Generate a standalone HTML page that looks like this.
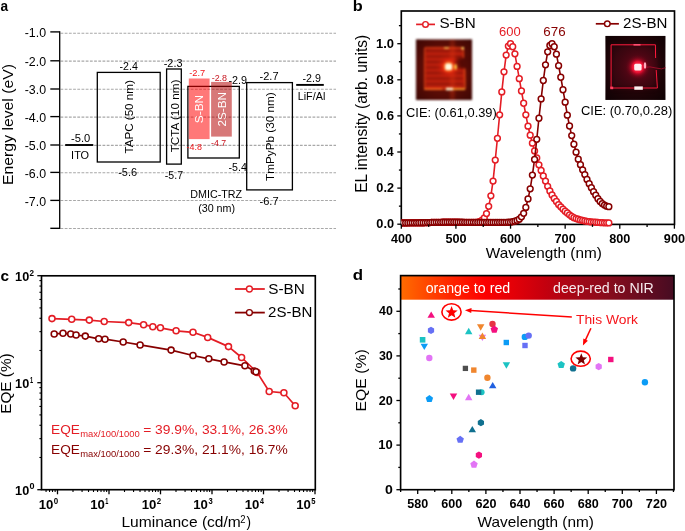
<!DOCTYPE html>
<html><head><meta charset="utf-8"><style>
html,body{margin:0;padding:0;background:#fff;}
body{width:685px;height:531px;overflow:hidden;}
svg{display:block;font-family:"Liberation Sans", sans-serif;will-change:transform;}
</style></head><body>
<svg width="685" height="531" viewBox="0 0 685 531" font-family='"Liberation Sans", sans-serif'>
<rect width="685" height="531" fill="#fff"/>
<text x="0.50" y="10.75" font-size="15.2" fill="#000" font-weight="bold" textLength="7.61" lengthAdjust="spacingAndGlyphs" >a</text>
<line x1="60.50" y1="33.20" x2="336.00" y2="33.20" stroke="#a8a8a8" stroke-width="1.15" stroke-dasharray="2.8 1.4"/>
<line x1="60.50" y1="61.05" x2="336.00" y2="61.05" stroke="#a8a8a8" stroke-width="1.15" stroke-dasharray="2.8 1.4"/>
<line x1="60.50" y1="89.20" x2="336.00" y2="89.20" stroke="#a8a8a8" stroke-width="1.15" stroke-dasharray="2.8 1.4"/>
<line x1="60.50" y1="117.10" x2="336.00" y2="117.10" stroke="#a8a8a8" stroke-width="1.15" stroke-dasharray="2.8 1.4"/>
<line x1="60.50" y1="145.30" x2="336.00" y2="145.30" stroke="#a8a8a8" stroke-width="1.15" stroke-dasharray="2.8 1.4"/>
<line x1="60.50" y1="172.70" x2="336.00" y2="172.70" stroke="#a8a8a8" stroke-width="1.15" stroke-dasharray="2.8 1.4"/>
<line x1="60.50" y1="200.50" x2="336.00" y2="200.50" stroke="#a8a8a8" stroke-width="1.15" stroke-dasharray="2.8 1.4"/>
<line x1="60.50" y1="228.50" x2="336.00" y2="228.50" stroke="#a8a8a8" stroke-width="1.15" stroke-dasharray="2.8 1.4"/>
<line x1="59.70" y1="31.30" x2="59.70" y2="228.90" stroke="#000" stroke-width="1.3" />
<line x1="50.30" y1="31.90" x2="59.70" y2="31.90" stroke="#000" stroke-width="1.35" />
<text x="24.75" y="37.30" font-size="13.1" fill="#000" textLength="21.33" lengthAdjust="spacingAndGlyphs" >-1.0</text>
<line x1="50.30" y1="60.80" x2="59.70" y2="60.80" stroke="#000" stroke-width="1.35" />
<text x="24.75" y="66.20" font-size="13.1" fill="#000" textLength="21.33" lengthAdjust="spacingAndGlyphs" >-2.0</text>
<line x1="50.30" y1="89.00" x2="59.70" y2="89.00" stroke="#000" stroke-width="1.35" />
<text x="24.75" y="94.40" font-size="13.1" fill="#000" textLength="21.33" lengthAdjust="spacingAndGlyphs" >-3.0</text>
<line x1="50.30" y1="116.60" x2="59.70" y2="116.60" stroke="#000" stroke-width="1.35" />
<text x="24.75" y="122.00" font-size="13.1" fill="#000" textLength="21.33" lengthAdjust="spacingAndGlyphs" >-4.0</text>
<line x1="50.30" y1="145.00" x2="59.70" y2="145.00" stroke="#000" stroke-width="1.35" />
<text x="24.75" y="150.40" font-size="13.1" fill="#000" textLength="21.33" lengthAdjust="spacingAndGlyphs" >-5.0</text>
<line x1="50.30" y1="172.40" x2="59.70" y2="172.40" stroke="#000" stroke-width="1.35" />
<text x="24.75" y="177.80" font-size="13.1" fill="#000" textLength="21.33" lengthAdjust="spacingAndGlyphs" >-6.0</text>
<line x1="50.30" y1="200.40" x2="59.70" y2="200.40" stroke="#000" stroke-width="1.35" />
<text x="24.75" y="205.80" font-size="13.1" fill="#000" textLength="21.33" lengthAdjust="spacingAndGlyphs" >-7.0</text>
<line x1="50.30" y1="228.30" x2="59.70" y2="228.30" stroke="#000" stroke-width="1.35" />
<text transform="translate(12.70,183.70) rotate(-90)" x="-1.29" y="0" font-size="15.1" fill="#000" textLength="121.07" lengthAdjust="spacingAndGlyphs">Energy level (eV)</text>
<rect x="97.30" y="72.40" width="62.90" height="89.60" stroke="#000" stroke-width="1.3" fill="none" />
<rect x="166.60" y="69.00" width="14.70" height="95.10" stroke="#000" stroke-width="1.3" fill="none" />
<rect x="187.90" y="86.40" width="51.40" height="71.60" stroke="#000" stroke-width="1.3" fill="none" />
<rect x="246.70" y="82.60" width="45.70" height="107.30" stroke="#000" stroke-width="1.3" fill="none" />
<line x1="65.20" y1="145.00" x2="93.30" y2="145.00" stroke="#000" stroke-width="1.9" />
<line x1="296.20" y1="84.90" x2="323.80" y2="84.90" stroke="#000" stroke-width="1.9" />
<rect x="188.8" y="78.5" width="20.8" height="60.6" fill="#ff0000" fill-opacity="0.53"/>
<rect x="211.1" y="81.9" width="20.7" height="54.7" fill="#b40000" fill-opacity="0.53"/>
<text x="71.10" y="141.60" font-size="11.6" fill="#000" textLength="19.23" lengthAdjust="spacingAndGlyphs" >-5.0</text>
<text x="71.10" y="159.20" font-size="10.9" fill="#000" textLength="18.01" lengthAdjust="spacingAndGlyphs" >ITO</text>
<text x="119.53" y="70.40" font-size="11.6" fill="#000" textLength="18.28" lengthAdjust="spacingAndGlyphs" >-2.4</text>
<text x="118.21" y="175.70" font-size="11.8" fill="#000" textLength="18.87" lengthAdjust="spacingAndGlyphs" >-5.6</text>
<text x="163.72" y="66.80" font-size="11.6" fill="#000" textLength="18.76" lengthAdjust="spacingAndGlyphs" >-2.3</text>
<text x="164.83" y="178.50" font-size="11.8" fill="#000" textLength="18.20" lengthAdjust="spacingAndGlyphs" >-5.7</text>
<text x="228.42" y="83.60" font-size="11.6" fill="#000" textLength="18.59" lengthAdjust="spacingAndGlyphs" >-2.9</text>
<text x="228.53" y="171.30" font-size="11.8" fill="#000" textLength="18.28" lengthAdjust="spacingAndGlyphs" >-5.4</text>
<text x="259.51" y="79.90" font-size="11.6" fill="#000" textLength="19.05" lengthAdjust="spacingAndGlyphs" >-2.7</text>
<text x="259.51" y="204.90" font-size="11.8" fill="#000" textLength="19.05" lengthAdjust="spacingAndGlyphs" >-6.7</text>
<text x="302.53" y="82.00" font-size="11.4" fill="#000" textLength="18.38" lengthAdjust="spacingAndGlyphs" >-2.9</text>
<text x="297.71" y="99.60" font-size="11.0" fill="#000" textLength="27.61" lengthAdjust="spacingAndGlyphs" >LiF/Al</text>
<text x="190.32" y="198.00" font-size="11.8" fill="#000" textLength="51.81" lengthAdjust="spacingAndGlyphs" >DMIC-TRZ</text>
<text x="198.14" y="211.90" font-size="11.0" fill="#000" textLength="36.93" lengthAdjust="spacingAndGlyphs" >(30 nm)</text>
<text x="189.29" y="76.00" font-size="9.5" fill="#f01418" textLength="15.98" lengthAdjust="spacingAndGlyphs" >-2.7</text>
<text x="211.70" y="80.60" font-size="9.5" fill="#c8141e" textLength="15.38" lengthAdjust="spacingAndGlyphs" >-2.8</text>
<text x="186.50" y="149.60" font-size="9.5" fill="#f01418" textLength="15.38" lengthAdjust="spacingAndGlyphs" >-4.8</text>
<text x="211.01" y="146.10" font-size="9.5" fill="#c8141e" textLength="15.03" lengthAdjust="spacingAndGlyphs" >-4.7</text>
<text transform="translate(133.30,153.30) rotate(-90)" x="-0.26" y="0" font-size="11.0" fill="#000" textLength="73.37" lengthAdjust="spacingAndGlyphs">TAPC (50 nm)</text>
<text transform="translate(179.10,152.10) rotate(-90)" x="-0.26" y="0" font-size="11.3" fill="#000" textLength="72.67" lengthAdjust="spacingAndGlyphs">TCTA (10 nm)</text>
<text transform="translate(203.40,122.70) rotate(-90)" x="-0.54" y="0" font-size="10.6" fill="#fff" textLength="28.41" lengthAdjust="spacingAndGlyphs">S-BN</text>
<text transform="translate(225.50,126.00) rotate(-90)" x="-0.59" y="0" font-size="10.6" fill="#fff" textLength="34.55" lengthAdjust="spacingAndGlyphs">2S-BN</text>
<text transform="translate(274.20,180.70) rotate(-90)" x="-0.26" y="0" font-size="11.4" fill="#000" textLength="88.69" lengthAdjust="spacingAndGlyphs">TmPyPb (30 nm)</text>
<text x="352.73" y="10.80" font-size="15.2" fill="#000" font-weight="bold" textLength="9.94" lengthAdjust="spacingAndGlyphs" >b</text>
<rect x="401.30" y="11.00" width="273.20" height="213.40" stroke="#000" stroke-width="1.65" fill="none" />
<defs><clipPath id="cpb"><rect x="401.3" y="0" width="280" height="240"/></clipPath></defs>
<g clip-path="url(#cpb)">
<polyline points="401.30,222.94 403.48,222.90 405.67,222.86 407.85,222.83 410.04,222.79 412.22,222.76 414.41,222.76 416.59,222.76 418.78,222.76 420.96,222.76 423.15,222.76 425.33,222.68 427.52,222.61 429.70,222.54 431.89,222.47 434.07,222.39 436.26,222.36 438.44,222.32 440.63,222.29 442.81,222.25 445.00,222.21 447.18,222.21 449.37,222.21 451.55,222.21 453.74,222.21 455.92,222.21 458.10,222.25 460.29,222.29 462.47,222.32 464.66,222.36 466.84,222.39 469.03,222.39 471.21,222.39 473.40,222.39 475.58,222.39 477.77,222.21 479.95,221.49 482.14,220.23 484.32,217.88 486.51,213.55 488.69,206.33 490.88,195.86 493.06,181.06 495.25,160.12 497.43,138.28 499.62,114.82 501.80,91.89 503.99,71.86 506.17,55.07 508.36,46.05 510.54,43.70 512.72,46.77 514.91,53.81 517.09,66.44 519.28,78.72 521.46,90.99 523.65,103.26 525.83,114.82 528.02,126.19 530.20,135.21 532.39,143.16 534.57,150.92 536.76,157.96 538.94,164.82 541.13,170.41 543.31,176.01 545.50,181.06 547.68,186.29 549.87,190.99 552.05,194.96 554.24,198.39 556.42,201.46 558.61,204.53 560.79,206.87 562.98,209.04 565.16,211.20 567.34,213.01 569.53,214.81 571.71,216.44 573.90,217.70 576.08,218.60 578.27,219.25 580.45,219.90 582.64,220.45 584.82,220.88 587.01,221.31 589.19,221.60 591.38,221.89 593.56,222.11 595.75,222.25 597.93,222.39 600.12,222.54 602.30,222.68 604.49,222.79 606.67,222.86 608.86,222.94" fill="none" stroke="#e41d25" stroke-width="1.6" stroke-linejoin="round"/>
<circle cx="401.30" cy="222.94" r="2.9" fill="#fff" stroke="#e41d25" stroke-width="1.5"/>
<circle cx="403.48" cy="222.90" r="2.9" fill="#fff" stroke="#e41d25" stroke-width="1.5"/>
<circle cx="405.67" cy="222.86" r="2.9" fill="#fff" stroke="#e41d25" stroke-width="1.5"/>
<circle cx="407.85" cy="222.83" r="2.9" fill="#fff" stroke="#e41d25" stroke-width="1.5"/>
<circle cx="410.04" cy="222.79" r="2.9" fill="#fff" stroke="#e41d25" stroke-width="1.5"/>
<circle cx="412.22" cy="222.76" r="2.9" fill="#fff" stroke="#e41d25" stroke-width="1.5"/>
<circle cx="414.41" cy="222.76" r="2.9" fill="#fff" stroke="#e41d25" stroke-width="1.5"/>
<circle cx="416.59" cy="222.76" r="2.9" fill="#fff" stroke="#e41d25" stroke-width="1.5"/>
<circle cx="418.78" cy="222.76" r="2.9" fill="#fff" stroke="#e41d25" stroke-width="1.5"/>
<circle cx="420.96" cy="222.76" r="2.9" fill="#fff" stroke="#e41d25" stroke-width="1.5"/>
<circle cx="423.15" cy="222.76" r="2.9" fill="#fff" stroke="#e41d25" stroke-width="1.5"/>
<circle cx="425.33" cy="222.68" r="2.9" fill="#fff" stroke="#e41d25" stroke-width="1.5"/>
<circle cx="427.52" cy="222.61" r="2.9" fill="#fff" stroke="#e41d25" stroke-width="1.5"/>
<circle cx="429.70" cy="222.54" r="2.9" fill="#fff" stroke="#e41d25" stroke-width="1.5"/>
<circle cx="431.89" cy="222.47" r="2.9" fill="#fff" stroke="#e41d25" stroke-width="1.5"/>
<circle cx="434.07" cy="222.39" r="2.9" fill="#fff" stroke="#e41d25" stroke-width="1.5"/>
<circle cx="436.26" cy="222.36" r="2.9" fill="#fff" stroke="#e41d25" stroke-width="1.5"/>
<circle cx="438.44" cy="222.32" r="2.9" fill="#fff" stroke="#e41d25" stroke-width="1.5"/>
<circle cx="440.63" cy="222.29" r="2.9" fill="#fff" stroke="#e41d25" stroke-width="1.5"/>
<circle cx="442.81" cy="222.25" r="2.9" fill="#fff" stroke="#e41d25" stroke-width="1.5"/>
<circle cx="445.00" cy="222.21" r="2.9" fill="#fff" stroke="#e41d25" stroke-width="1.5"/>
<circle cx="447.18" cy="222.21" r="2.9" fill="#fff" stroke="#e41d25" stroke-width="1.5"/>
<circle cx="449.37" cy="222.21" r="2.9" fill="#fff" stroke="#e41d25" stroke-width="1.5"/>
<circle cx="451.55" cy="222.21" r="2.9" fill="#fff" stroke="#e41d25" stroke-width="1.5"/>
<circle cx="453.74" cy="222.21" r="2.9" fill="#fff" stroke="#e41d25" stroke-width="1.5"/>
<circle cx="455.92" cy="222.21" r="2.9" fill="#fff" stroke="#e41d25" stroke-width="1.5"/>
<circle cx="458.10" cy="222.25" r="2.9" fill="#fff" stroke="#e41d25" stroke-width="1.5"/>
<circle cx="460.29" cy="222.29" r="2.9" fill="#fff" stroke="#e41d25" stroke-width="1.5"/>
<circle cx="462.47" cy="222.32" r="2.9" fill="#fff" stroke="#e41d25" stroke-width="1.5"/>
<circle cx="464.66" cy="222.36" r="2.9" fill="#fff" stroke="#e41d25" stroke-width="1.5"/>
<circle cx="466.84" cy="222.39" r="2.9" fill="#fff" stroke="#e41d25" stroke-width="1.5"/>
<circle cx="469.03" cy="222.39" r="2.9" fill="#fff" stroke="#e41d25" stroke-width="1.5"/>
<circle cx="471.21" cy="222.39" r="2.9" fill="#fff" stroke="#e41d25" stroke-width="1.5"/>
<circle cx="473.40" cy="222.39" r="2.9" fill="#fff" stroke="#e41d25" stroke-width="1.5"/>
<circle cx="475.58" cy="222.39" r="2.9" fill="#fff" stroke="#e41d25" stroke-width="1.5"/>
<circle cx="477.77" cy="222.21" r="2.9" fill="#fff" stroke="#e41d25" stroke-width="1.5"/>
<circle cx="479.95" cy="221.49" r="2.9" fill="#fff" stroke="#e41d25" stroke-width="1.5"/>
<circle cx="482.14" cy="220.23" r="2.9" fill="#fff" stroke="#e41d25" stroke-width="1.5"/>
<circle cx="484.32" cy="217.88" r="2.9" fill="#fff" stroke="#e41d25" stroke-width="1.5"/>
<circle cx="486.51" cy="213.55" r="2.9" fill="#fff" stroke="#e41d25" stroke-width="1.5"/>
<circle cx="488.69" cy="206.33" r="2.9" fill="#fff" stroke="#e41d25" stroke-width="1.5"/>
<circle cx="490.88" cy="195.86" r="2.9" fill="#fff" stroke="#e41d25" stroke-width="1.5"/>
<circle cx="493.06" cy="181.06" r="2.9" fill="#fff" stroke="#e41d25" stroke-width="1.5"/>
<circle cx="495.25" cy="160.12" r="2.9" fill="#fff" stroke="#e41d25" stroke-width="1.5"/>
<circle cx="497.43" cy="138.28" r="2.9" fill="#fff" stroke="#e41d25" stroke-width="1.5"/>
<circle cx="499.62" cy="114.82" r="2.9" fill="#fff" stroke="#e41d25" stroke-width="1.5"/>
<circle cx="501.80" cy="91.89" r="2.9" fill="#fff" stroke="#e41d25" stroke-width="1.5"/>
<circle cx="503.99" cy="71.86" r="2.9" fill="#fff" stroke="#e41d25" stroke-width="1.5"/>
<circle cx="506.17" cy="55.07" r="2.9" fill="#fff" stroke="#e41d25" stroke-width="1.5"/>
<circle cx="508.36" cy="46.05" r="2.9" fill="#fff" stroke="#e41d25" stroke-width="1.5"/>
<circle cx="510.54" cy="43.70" r="2.9" fill="#fff" stroke="#e41d25" stroke-width="1.5"/>
<circle cx="512.72" cy="46.77" r="2.9" fill="#fff" stroke="#e41d25" stroke-width="1.5"/>
<circle cx="514.91" cy="53.81" r="2.9" fill="#fff" stroke="#e41d25" stroke-width="1.5"/>
<circle cx="517.09" cy="66.44" r="2.9" fill="#fff" stroke="#e41d25" stroke-width="1.5"/>
<circle cx="519.28" cy="78.72" r="2.9" fill="#fff" stroke="#e41d25" stroke-width="1.5"/>
<circle cx="521.46" cy="90.99" r="2.9" fill="#fff" stroke="#e41d25" stroke-width="1.5"/>
<circle cx="523.65" cy="103.26" r="2.9" fill="#fff" stroke="#e41d25" stroke-width="1.5"/>
<circle cx="525.83" cy="114.82" r="2.9" fill="#fff" stroke="#e41d25" stroke-width="1.5"/>
<circle cx="528.02" cy="126.19" r="2.9" fill="#fff" stroke="#e41d25" stroke-width="1.5"/>
<circle cx="530.20" cy="135.21" r="2.9" fill="#fff" stroke="#e41d25" stroke-width="1.5"/>
<circle cx="532.39" cy="143.16" r="2.9" fill="#fff" stroke="#e41d25" stroke-width="1.5"/>
<circle cx="534.57" cy="150.92" r="2.9" fill="#fff" stroke="#e41d25" stroke-width="1.5"/>
<circle cx="536.76" cy="157.96" r="2.9" fill="#fff" stroke="#e41d25" stroke-width="1.5"/>
<circle cx="538.94" cy="164.82" r="2.9" fill="#fff" stroke="#e41d25" stroke-width="1.5"/>
<circle cx="541.13" cy="170.41" r="2.9" fill="#fff" stroke="#e41d25" stroke-width="1.5"/>
<circle cx="543.31" cy="176.01" r="2.9" fill="#fff" stroke="#e41d25" stroke-width="1.5"/>
<circle cx="545.50" cy="181.06" r="2.9" fill="#fff" stroke="#e41d25" stroke-width="1.5"/>
<circle cx="547.68" cy="186.29" r="2.9" fill="#fff" stroke="#e41d25" stroke-width="1.5"/>
<circle cx="549.87" cy="190.99" r="2.9" fill="#fff" stroke="#e41d25" stroke-width="1.5"/>
<circle cx="552.05" cy="194.96" r="2.9" fill="#fff" stroke="#e41d25" stroke-width="1.5"/>
<circle cx="554.24" cy="198.39" r="2.9" fill="#fff" stroke="#e41d25" stroke-width="1.5"/>
<circle cx="556.42" cy="201.46" r="2.9" fill="#fff" stroke="#e41d25" stroke-width="1.5"/>
<circle cx="558.61" cy="204.53" r="2.9" fill="#fff" stroke="#e41d25" stroke-width="1.5"/>
<circle cx="560.79" cy="206.87" r="2.9" fill="#fff" stroke="#e41d25" stroke-width="1.5"/>
<circle cx="562.98" cy="209.04" r="2.9" fill="#fff" stroke="#e41d25" stroke-width="1.5"/>
<circle cx="565.16" cy="211.20" r="2.9" fill="#fff" stroke="#e41d25" stroke-width="1.5"/>
<circle cx="567.34" cy="213.01" r="2.9" fill="#fff" stroke="#e41d25" stroke-width="1.5"/>
<circle cx="569.53" cy="214.81" r="2.9" fill="#fff" stroke="#e41d25" stroke-width="1.5"/>
<circle cx="571.71" cy="216.44" r="2.9" fill="#fff" stroke="#e41d25" stroke-width="1.5"/>
<circle cx="573.90" cy="217.70" r="2.9" fill="#fff" stroke="#e41d25" stroke-width="1.5"/>
<circle cx="576.08" cy="218.60" r="2.9" fill="#fff" stroke="#e41d25" stroke-width="1.5"/>
<circle cx="578.27" cy="219.25" r="2.9" fill="#fff" stroke="#e41d25" stroke-width="1.5"/>
<circle cx="580.45" cy="219.90" r="2.9" fill="#fff" stroke="#e41d25" stroke-width="1.5"/>
<circle cx="582.64" cy="220.45" r="2.9" fill="#fff" stroke="#e41d25" stroke-width="1.5"/>
<circle cx="584.82" cy="220.88" r="2.9" fill="#fff" stroke="#e41d25" stroke-width="1.5"/>
<circle cx="587.01" cy="221.31" r="2.9" fill="#fff" stroke="#e41d25" stroke-width="1.5"/>
<circle cx="589.19" cy="221.60" r="2.9" fill="#fff" stroke="#e41d25" stroke-width="1.5"/>
<circle cx="591.38" cy="221.89" r="2.9" fill="#fff" stroke="#e41d25" stroke-width="1.5"/>
<circle cx="593.56" cy="222.11" r="2.9" fill="#fff" stroke="#e41d25" stroke-width="1.5"/>
<circle cx="595.75" cy="222.25" r="2.9" fill="#fff" stroke="#e41d25" stroke-width="1.5"/>
<circle cx="597.93" cy="222.39" r="2.9" fill="#fff" stroke="#e41d25" stroke-width="1.5"/>
<circle cx="600.12" cy="222.54" r="2.9" fill="#fff" stroke="#e41d25" stroke-width="1.5"/>
<circle cx="602.30" cy="222.68" r="2.9" fill="#fff" stroke="#e41d25" stroke-width="1.5"/>
<circle cx="604.49" cy="222.79" r="2.9" fill="#fff" stroke="#e41d25" stroke-width="1.5"/>
<circle cx="606.67" cy="222.86" r="2.9" fill="#fff" stroke="#e41d25" stroke-width="1.5"/>
<circle cx="608.86" cy="222.94" r="2.9" fill="#fff" stroke="#e41d25" stroke-width="1.5"/>
<polyline points="401.30,222.94 403.48,222.92 405.67,222.90 407.85,222.88 410.04,222.86 412.22,222.85 414.41,222.83 416.59,222.81 418.78,222.79 420.96,222.77 423.15,222.76 425.33,222.68 427.52,222.61 429.70,222.54 431.89,222.47 434.07,222.39 436.26,222.36 438.44,222.32 440.63,222.29 442.81,222.25 445.00,222.21 447.18,222.21 449.37,222.21 451.55,222.21 453.74,222.21 455.92,222.21 458.10,222.23 460.29,222.25 462.47,222.27 464.66,222.29 466.84,222.30 469.03,222.32 471.21,222.34 473.40,222.36 475.58,222.38 477.77,222.39 479.95,222.39 482.14,222.39 484.32,222.39 486.51,222.39 488.69,222.39 490.88,222.39 493.06,222.39 495.25,222.39 497.43,222.39 499.62,222.39 501.80,222.36 503.99,222.32 506.17,222.29 508.36,222.25 510.54,222.21 512.72,221.67 514.91,221.13 517.09,220.41 519.28,219.15 521.46,216.80 523.65,213.37 525.83,207.41 528.02,198.93 530.20,188.82 532.39,175.10 534.57,159.40 536.76,139.37 538.94,118.25 541.13,98.93 543.31,80.52 545.50,64.82 547.68,51.82 549.87,45.50 552.05,43.70 554.24,46.77 556.42,54.17 558.61,65.72 560.79,77.27 562.98,89.73 565.16,102.18 567.34,115.18 569.53,126.01 571.71,135.57 573.90,144.24 576.08,152.18 578.27,159.22 580.45,164.63 582.64,169.87 584.82,174.56 587.01,179.44 589.19,183.77 591.38,187.74 593.56,191.71 595.75,195.14 597.93,198.75 600.12,201.46 602.30,203.62 604.49,205.07 606.67,206.15 608.86,206.69" fill="none" stroke="#870000" stroke-width="1.6" stroke-linejoin="round"/>
<circle cx="401.30" cy="222.94" r="2.9" fill="#fff" stroke="#870000" stroke-width="1.5"/>
<circle cx="403.48" cy="222.92" r="2.9" fill="#fff" stroke="#870000" stroke-width="1.5"/>
<circle cx="405.67" cy="222.90" r="2.9" fill="#fff" stroke="#870000" stroke-width="1.5"/>
<circle cx="407.85" cy="222.88" r="2.9" fill="#fff" stroke="#870000" stroke-width="1.5"/>
<circle cx="410.04" cy="222.86" r="2.9" fill="#fff" stroke="#870000" stroke-width="1.5"/>
<circle cx="412.22" cy="222.85" r="2.9" fill="#fff" stroke="#870000" stroke-width="1.5"/>
<circle cx="414.41" cy="222.83" r="2.9" fill="#fff" stroke="#870000" stroke-width="1.5"/>
<circle cx="416.59" cy="222.81" r="2.9" fill="#fff" stroke="#870000" stroke-width="1.5"/>
<circle cx="418.78" cy="222.79" r="2.9" fill="#fff" stroke="#870000" stroke-width="1.5"/>
<circle cx="420.96" cy="222.77" r="2.9" fill="#fff" stroke="#870000" stroke-width="1.5"/>
<circle cx="423.15" cy="222.76" r="2.9" fill="#fff" stroke="#870000" stroke-width="1.5"/>
<circle cx="425.33" cy="222.68" r="2.9" fill="#fff" stroke="#870000" stroke-width="1.5"/>
<circle cx="427.52" cy="222.61" r="2.9" fill="#fff" stroke="#870000" stroke-width="1.5"/>
<circle cx="429.70" cy="222.54" r="2.9" fill="#fff" stroke="#870000" stroke-width="1.5"/>
<circle cx="431.89" cy="222.47" r="2.9" fill="#fff" stroke="#870000" stroke-width="1.5"/>
<circle cx="434.07" cy="222.39" r="2.9" fill="#fff" stroke="#870000" stroke-width="1.5"/>
<circle cx="436.26" cy="222.36" r="2.9" fill="#fff" stroke="#870000" stroke-width="1.5"/>
<circle cx="438.44" cy="222.32" r="2.9" fill="#fff" stroke="#870000" stroke-width="1.5"/>
<circle cx="440.63" cy="222.29" r="2.9" fill="#fff" stroke="#870000" stroke-width="1.5"/>
<circle cx="442.81" cy="222.25" r="2.9" fill="#fff" stroke="#870000" stroke-width="1.5"/>
<circle cx="445.00" cy="222.21" r="2.9" fill="#fff" stroke="#870000" stroke-width="1.5"/>
<circle cx="447.18" cy="222.21" r="2.9" fill="#fff" stroke="#870000" stroke-width="1.5"/>
<circle cx="449.37" cy="222.21" r="2.9" fill="#fff" stroke="#870000" stroke-width="1.5"/>
<circle cx="451.55" cy="222.21" r="2.9" fill="#fff" stroke="#870000" stroke-width="1.5"/>
<circle cx="453.74" cy="222.21" r="2.9" fill="#fff" stroke="#870000" stroke-width="1.5"/>
<circle cx="455.92" cy="222.21" r="2.9" fill="#fff" stroke="#870000" stroke-width="1.5"/>
<circle cx="458.10" cy="222.23" r="2.9" fill="#fff" stroke="#870000" stroke-width="1.5"/>
<circle cx="460.29" cy="222.25" r="2.9" fill="#fff" stroke="#870000" stroke-width="1.5"/>
<circle cx="462.47" cy="222.27" r="2.9" fill="#fff" stroke="#870000" stroke-width="1.5"/>
<circle cx="464.66" cy="222.29" r="2.9" fill="#fff" stroke="#870000" stroke-width="1.5"/>
<circle cx="466.84" cy="222.30" r="2.9" fill="#fff" stroke="#870000" stroke-width="1.5"/>
<circle cx="469.03" cy="222.32" r="2.9" fill="#fff" stroke="#870000" stroke-width="1.5"/>
<circle cx="471.21" cy="222.34" r="2.9" fill="#fff" stroke="#870000" stroke-width="1.5"/>
<circle cx="473.40" cy="222.36" r="2.9" fill="#fff" stroke="#870000" stroke-width="1.5"/>
<circle cx="475.58" cy="222.38" r="2.9" fill="#fff" stroke="#870000" stroke-width="1.5"/>
<circle cx="477.77" cy="222.39" r="2.9" fill="#fff" stroke="#870000" stroke-width="1.5"/>
<circle cx="479.95" cy="222.39" r="2.9" fill="#fff" stroke="#870000" stroke-width="1.5"/>
<circle cx="482.14" cy="222.39" r="2.9" fill="#fff" stroke="#870000" stroke-width="1.5"/>
<circle cx="484.32" cy="222.39" r="2.9" fill="#fff" stroke="#870000" stroke-width="1.5"/>
<circle cx="486.51" cy="222.39" r="2.9" fill="#fff" stroke="#870000" stroke-width="1.5"/>
<circle cx="488.69" cy="222.39" r="2.9" fill="#fff" stroke="#870000" stroke-width="1.5"/>
<circle cx="490.88" cy="222.39" r="2.9" fill="#fff" stroke="#870000" stroke-width="1.5"/>
<circle cx="493.06" cy="222.39" r="2.9" fill="#fff" stroke="#870000" stroke-width="1.5"/>
<circle cx="495.25" cy="222.39" r="2.9" fill="#fff" stroke="#870000" stroke-width="1.5"/>
<circle cx="497.43" cy="222.39" r="2.9" fill="#fff" stroke="#870000" stroke-width="1.5"/>
<circle cx="499.62" cy="222.39" r="2.9" fill="#fff" stroke="#870000" stroke-width="1.5"/>
<circle cx="501.80" cy="222.36" r="2.9" fill="#fff" stroke="#870000" stroke-width="1.5"/>
<circle cx="503.99" cy="222.32" r="2.9" fill="#fff" stroke="#870000" stroke-width="1.5"/>
<circle cx="506.17" cy="222.29" r="2.9" fill="#fff" stroke="#870000" stroke-width="1.5"/>
<circle cx="508.36" cy="222.25" r="2.9" fill="#fff" stroke="#870000" stroke-width="1.5"/>
<circle cx="510.54" cy="222.21" r="2.9" fill="#fff" stroke="#870000" stroke-width="1.5"/>
<circle cx="512.72" cy="221.67" r="2.9" fill="#fff" stroke="#870000" stroke-width="1.5"/>
<circle cx="514.91" cy="221.13" r="2.9" fill="#fff" stroke="#870000" stroke-width="1.5"/>
<circle cx="517.09" cy="220.41" r="2.9" fill="#fff" stroke="#870000" stroke-width="1.5"/>
<circle cx="519.28" cy="219.15" r="2.9" fill="#fff" stroke="#870000" stroke-width="1.5"/>
<circle cx="521.46" cy="216.80" r="2.9" fill="#fff" stroke="#870000" stroke-width="1.5"/>
<circle cx="523.65" cy="213.37" r="2.9" fill="#fff" stroke="#870000" stroke-width="1.5"/>
<circle cx="525.83" cy="207.41" r="2.9" fill="#fff" stroke="#870000" stroke-width="1.5"/>
<circle cx="528.02" cy="198.93" r="2.9" fill="#fff" stroke="#870000" stroke-width="1.5"/>
<circle cx="530.20" cy="188.82" r="2.9" fill="#fff" stroke="#870000" stroke-width="1.5"/>
<circle cx="532.39" cy="175.10" r="2.9" fill="#fff" stroke="#870000" stroke-width="1.5"/>
<circle cx="534.57" cy="159.40" r="2.9" fill="#fff" stroke="#870000" stroke-width="1.5"/>
<circle cx="536.76" cy="139.37" r="2.9" fill="#fff" stroke="#870000" stroke-width="1.5"/>
<circle cx="538.94" cy="118.25" r="2.9" fill="#fff" stroke="#870000" stroke-width="1.5"/>
<circle cx="541.13" cy="98.93" r="2.9" fill="#fff" stroke="#870000" stroke-width="1.5"/>
<circle cx="543.31" cy="80.52" r="2.9" fill="#fff" stroke="#870000" stroke-width="1.5"/>
<circle cx="545.50" cy="64.82" r="2.9" fill="#fff" stroke="#870000" stroke-width="1.5"/>
<circle cx="547.68" cy="51.82" r="2.9" fill="#fff" stroke="#870000" stroke-width="1.5"/>
<circle cx="549.87" cy="45.50" r="2.9" fill="#fff" stroke="#870000" stroke-width="1.5"/>
<circle cx="552.05" cy="43.70" r="2.9" fill="#fff" stroke="#870000" stroke-width="1.5"/>
<circle cx="554.24" cy="46.77" r="2.9" fill="#fff" stroke="#870000" stroke-width="1.5"/>
<circle cx="556.42" cy="54.17" r="2.9" fill="#fff" stroke="#870000" stroke-width="1.5"/>
<circle cx="558.61" cy="65.72" r="2.9" fill="#fff" stroke="#870000" stroke-width="1.5"/>
<circle cx="560.79" cy="77.27" r="2.9" fill="#fff" stroke="#870000" stroke-width="1.5"/>
<circle cx="562.98" cy="89.73" r="2.9" fill="#fff" stroke="#870000" stroke-width="1.5"/>
<circle cx="565.16" cy="102.18" r="2.9" fill="#fff" stroke="#870000" stroke-width="1.5"/>
<circle cx="567.34" cy="115.18" r="2.9" fill="#fff" stroke="#870000" stroke-width="1.5"/>
<circle cx="569.53" cy="126.01" r="2.9" fill="#fff" stroke="#870000" stroke-width="1.5"/>
<circle cx="571.71" cy="135.57" r="2.9" fill="#fff" stroke="#870000" stroke-width="1.5"/>
<circle cx="573.90" cy="144.24" r="2.9" fill="#fff" stroke="#870000" stroke-width="1.5"/>
<circle cx="576.08" cy="152.18" r="2.9" fill="#fff" stroke="#870000" stroke-width="1.5"/>
<circle cx="578.27" cy="159.22" r="2.9" fill="#fff" stroke="#870000" stroke-width="1.5"/>
<circle cx="580.45" cy="164.63" r="2.9" fill="#fff" stroke="#870000" stroke-width="1.5"/>
<circle cx="582.64" cy="169.87" r="2.9" fill="#fff" stroke="#870000" stroke-width="1.5"/>
<circle cx="584.82" cy="174.56" r="2.9" fill="#fff" stroke="#870000" stroke-width="1.5"/>
<circle cx="587.01" cy="179.44" r="2.9" fill="#fff" stroke="#870000" stroke-width="1.5"/>
<circle cx="589.19" cy="183.77" r="2.9" fill="#fff" stroke="#870000" stroke-width="1.5"/>
<circle cx="591.38" cy="187.74" r="2.9" fill="#fff" stroke="#870000" stroke-width="1.5"/>
<circle cx="593.56" cy="191.71" r="2.9" fill="#fff" stroke="#870000" stroke-width="1.5"/>
<circle cx="595.75" cy="195.14" r="2.9" fill="#fff" stroke="#870000" stroke-width="1.5"/>
<circle cx="597.93" cy="198.75" r="2.9" fill="#fff" stroke="#870000" stroke-width="1.5"/>
<circle cx="600.12" cy="201.46" r="2.9" fill="#fff" stroke="#870000" stroke-width="1.5"/>
<circle cx="602.30" cy="203.62" r="2.9" fill="#fff" stroke="#870000" stroke-width="1.5"/>
<circle cx="604.49" cy="205.07" r="2.9" fill="#fff" stroke="#870000" stroke-width="1.5"/>
<circle cx="606.67" cy="206.15" r="2.9" fill="#fff" stroke="#870000" stroke-width="1.5"/>
<circle cx="608.86" cy="206.69" r="2.9" fill="#fff" stroke="#870000" stroke-width="1.5"/>
</g>
<line x1="397.30" y1="224.20" x2="401.30" y2="224.20" stroke="#000" stroke-width="1.3" />
<text x="376.30" y="228.20" font-size="12.4" fill="#000" font-weight="bold" textLength="17.73" lengthAdjust="spacingAndGlyphs" >0.0</text>
<line x1="398.90" y1="206.15" x2="401.30" y2="206.15" stroke="#000" stroke-width="1.3" />
<line x1="397.30" y1="188.10" x2="401.30" y2="188.10" stroke="#000" stroke-width="1.3" />
<text x="376.30" y="192.10" font-size="12.4" fill="#000" font-weight="bold" textLength="17.71" lengthAdjust="spacingAndGlyphs" >0.2</text>
<line x1="398.90" y1="170.05" x2="401.30" y2="170.05" stroke="#000" stroke-width="1.3" />
<line x1="397.30" y1="152.00" x2="401.30" y2="152.00" stroke="#000" stroke-width="1.3" />
<text x="376.31" y="156.00" font-size="12.4" fill="#000" font-weight="bold" textLength="17.26" lengthAdjust="spacingAndGlyphs" >0.4</text>
<line x1="398.90" y1="133.95" x2="401.30" y2="133.95" stroke="#000" stroke-width="1.3" />
<line x1="397.30" y1="115.90" x2="401.30" y2="115.90" stroke="#000" stroke-width="1.3" />
<text x="376.30" y="119.90" font-size="12.4" fill="#000" font-weight="bold" textLength="17.66" lengthAdjust="spacingAndGlyphs" >0.6</text>
<line x1="398.90" y1="97.85" x2="401.30" y2="97.85" stroke="#000" stroke-width="1.3" />
<line x1="397.30" y1="79.80" x2="401.30" y2="79.80" stroke="#000" stroke-width="1.3" />
<text x="376.30" y="83.80" font-size="12.4" fill="#000" font-weight="bold" textLength="17.59" lengthAdjust="spacingAndGlyphs" >0.8</text>
<line x1="398.90" y1="61.75" x2="401.30" y2="61.75" stroke="#000" stroke-width="1.3" />
<line x1="397.30" y1="43.70" x2="401.30" y2="43.70" stroke="#000" stroke-width="1.3" />
<text x="375.98" y="47.70" font-size="12.4" fill="#000" font-weight="bold" textLength="18.05" lengthAdjust="spacingAndGlyphs" >1.0</text>
<line x1="398.90" y1="25.65" x2="401.30" y2="25.65" stroke="#000" stroke-width="1.3" />
<line x1="401.30" y1="224.40" x2="401.30" y2="228.70" stroke="#000" stroke-width="1.3" />
<text x="391.01" y="242.70" font-size="12.5" fill="#000" font-weight="bold" textLength="20.90" lengthAdjust="spacingAndGlyphs" >400</text>
<line x1="428.61" y1="224.40" x2="428.61" y2="226.90" stroke="#000" stroke-width="1.3" />
<line x1="455.92" y1="224.40" x2="455.92" y2="228.70" stroke="#000" stroke-width="1.3" />
<text x="445.43" y="242.70" font-size="12.5" fill="#000" font-weight="bold" textLength="21.11" lengthAdjust="spacingAndGlyphs" >500</text>
<line x1="483.23" y1="224.40" x2="483.23" y2="226.90" stroke="#000" stroke-width="1.3" />
<line x1="510.54" y1="224.40" x2="510.54" y2="228.70" stroke="#000" stroke-width="1.3" />
<text x="499.97" y="242.70" font-size="12.5" fill="#000" font-weight="bold" textLength="21.19" lengthAdjust="spacingAndGlyphs" >600</text>
<line x1="537.85" y1="224.40" x2="537.85" y2="226.90" stroke="#000" stroke-width="1.3" />
<line x1="565.16" y1="224.40" x2="565.16" y2="228.70" stroke="#000" stroke-width="1.3" />
<text x="554.51" y="242.70" font-size="12.5" fill="#000" font-weight="bold" textLength="21.27" lengthAdjust="spacingAndGlyphs" >700</text>
<line x1="592.47" y1="224.40" x2="592.47" y2="226.90" stroke="#000" stroke-width="1.3" />
<line x1="619.78" y1="224.40" x2="619.78" y2="228.70" stroke="#000" stroke-width="1.3" />
<text x="609.28" y="242.70" font-size="12.5" fill="#000" font-weight="bold" textLength="21.12" lengthAdjust="spacingAndGlyphs" >800</text>
<line x1="647.09" y1="224.40" x2="647.09" y2="226.90" stroke="#000" stroke-width="1.3" />
<line x1="674.40" y1="224.40" x2="674.40" y2="228.70" stroke="#000" stroke-width="1.3" />
<text x="663.86" y="242.70" font-size="12.5" fill="#000" font-weight="bold" textLength="21.16" lengthAdjust="spacingAndGlyphs" >900</text>
<text transform="translate(366.90,191.60) rotate(-90)" x="-1.27" y="0" font-size="16.2" fill="#000" textLength="158.03" lengthAdjust="spacingAndGlyphs">EL intensity (arb. units)</text>
<text x="485.83" y="258.40" font-size="14.8" fill="#000" textLength="115.91" lengthAdjust="spacingAndGlyphs" >Wavelength (nm)</text>
<line x1="416.10" y1="24.40" x2="435.00" y2="24.40" stroke="#e41d25" stroke-width="1.7" />
<circle cx="425.5" cy="24.4" r="2.8" fill="#fff" stroke="#e41d25" stroke-width="1.45"/>
<text x="439.41" y="28.10" font-size="14.4" fill="#000" textLength="36.33" lengthAdjust="spacingAndGlyphs" >S-BN</text>
<line x1="595.80" y1="23.80" x2="618.90" y2="23.80" stroke="#870000" stroke-width="1.7" />
<circle cx="607.3" cy="23.8" r="2.8" fill="#fff" stroke="#870000" stroke-width="1.45"/>
<text x="623.14" y="27.90" font-size="14.5" fill="#000" textLength="44.39" lengthAdjust="spacingAndGlyphs" >2S-BN</text>
<text x="498.94" y="35.50" font-size="12.0" fill="#e41d25" textLength="21.67" lengthAdjust="spacingAndGlyphs" >600</text>
<text x="543.32" y="35.50" font-size="12.0" fill="#870000" textLength="22.26" lengthAdjust="spacingAndGlyphs" >676</text>
<text x="406.05" y="116.90" font-size="12.3" fill="#000" textLength="90.75" lengthAdjust="spacingAndGlyphs" >CIE: (0.61,0.39)</text>
<text x="580.94" y="115.10" font-size="12.3" fill="#000" textLength="91.36" lengthAdjust="spacingAndGlyphs" >CIE: (0.70,0.28)</text>
<defs>
<filter id="bl05" color-interpolation-filters="sRGB" x="-20%" y="-20%" width="140%" height="140%"><feGaussianBlur stdDeviation="0.5"/></filter>
<filter id="bl07" color-interpolation-filters="sRGB" x="-8%" y="-8%" width="116%" height="116%"><feGaussianBlur stdDeviation="0.85"/></filter>
<filter id="bl1" color-interpolation-filters="sRGB" x="-20%" y="-20%" width="140%" height="140%"><feGaussianBlur stdDeviation="0.9"/></filter>
<filter id="bl2" color-interpolation-filters="sRGB" x="-50%" y="-50%" width="200%" height="200%"><feGaussianBlur stdDeviation="2.0"/></filter>
<filter id="bl3" color-interpolation-filters="sRGB" x="-50%" y="-50%" width="200%" height="200%"><feGaussianBlur stdDeviation="1.2"/></filter>
<radialGradient id="vig1" cx="0.5" cy="0.5" r="0.72"><stop offset="0.55" stop-color="#300402" stop-opacity="0"/><stop offset="1" stop-color="#300402" stop-opacity="0.75"/></radialGradient>
<radialGradient id="vig2" cx="0.5" cy="0.5" r="0.72"><stop offset="0.5" stop-color="#000" stop-opacity="0"/><stop offset="1" stop-color="#000" stop-opacity="0.6"/></radialGradient>
<radialGradient id="glow1" cx="0.5" cy="0.5" r="0.5"><stop offset="0" stop-color="#ff4010"/><stop offset="0.35" stop-color="#ff2810" stop-opacity="0.8"/><stop offset="0.7" stop-color="#e0200c" stop-opacity="0.3"/><stop offset="1" stop-color="#c02008" stop-opacity="0"/></radialGradient>
<radialGradient id="glow2" cx="0.5" cy="0.5" r="0.5"><stop offset="0" stop-color="#ff1038"/><stop offset="0.45" stop-color="#f00a30" stop-opacity="0.85"/><stop offset="0.75" stop-color="#a00620" stop-opacity="0.3"/><stop offset="1" stop-color="#600418" stop-opacity="0"/></radialGradient>
<radialGradient id="glow2b" cx="0.5" cy="0.5" r="0.5"><stop offset="0" stop-color="#c00828" stop-opacity="0.55"/><stop offset="0.5" stop-color="#900620" stop-opacity="0.25"/><stop offset="1" stop-color="#600418" stop-opacity="0"/></radialGradient>
<clipPath id="cp1"><rect x="415.8" y="39.3" width="56.4" height="60.8"/></clipPath>
<clipPath id="cp2"><rect x="605.3" y="35.8" width="60.3" height="64.1"/></clipPath>
</defs>
<g filter="url(#bl07)"><g clip-path="url(#cp1)">
<rect x="415.8" y="39.3" width="56.4" height="60.8" fill="#5a0c06"/>
<g filter="url(#bl1)">
<path d="M425,48 L463.3,48 L463.5,58 Q455,59 454.5,63.5 Q455,68 465,68.5 L465.1,89 L425,89 Z" fill="#c8220e"/>
<rect x="426" y="50.0" width="37" height="2.0" fill="#600a04" opacity="0.75"/>
<rect x="426" y="55.5" width="37" height="2.0" fill="#600a04" opacity="0.75"/>
<rect x="426" y="61.0" width="37" height="2.0" fill="#600a04" opacity="0.75"/>
<rect x="426" y="66.5" width="37" height="2.0" fill="#600a04" opacity="0.75"/>
<rect x="426" y="72.0" width="37" height="2.0" fill="#600a04" opacity="0.75"/>
<rect x="426" y="77.5" width="37" height="2.0" fill="#600a04" opacity="0.75"/>
<rect x="426" y="83.0" width="37" height="2.0" fill="#600a04" opacity="0.75"/>
<rect x="450" y="39" width="5" height="62" fill="#e83a14" opacity="0.32"/>
<path d="M456,57 Q452,63 456,69 L472,70 L472,57 Z" fill="#4a0804" opacity="0.3"/>
</g>
<rect x="415.8" y="39.3" width="56.4" height="60.8" fill="url(#vig1)"/>
<circle cx="448.5" cy="66.7" r="13" fill="url(#glow1)"/>
<g filter="url(#bl05)">
<path d="M424.8,89.1 L424.8,47.8 L463.2,47.8 L463.4,58" fill="none" stroke="#ff501a" stroke-width="0.9"/>
<path d="M464.6,68.5 L465.1,89.1 L424.8,89.1" fill="none" stroke="#ff601c" stroke-width="0.9"/>
<rect x="424" y="88.3" width="18" height="1.4" fill="#ff7020"/>
<rect x="446" y="87.7" width="7" height="2.6" fill="#fff6d0"/>
<rect x="453" y="88.3" width="12" height="1.5" fill="#ffb030"/>
<rect x="444" y="47.2" width="5" height="1.5" fill="#ffc050"/>
<rect x="461.5" y="47" width="2.5" height="2.5" fill="#ffd060"/>
<ellipse cx="455.6" cy="67" rx="1.3" ry="3" fill="#ffd040"/>
</g>
<circle cx="448.5" cy="66.7" r="4.6" fill="#ff9a28" filter="url(#bl3)"/>
<rect x="445.2" y="63.5" width="6.8" height="6.6" rx="1.5" fill="#fffbe0" filter="url(#bl05)"/>
</g></g>
<g filter="url(#bl05)"><g clip-path="url(#cp2)">
<rect x="605.3" y="35.8" width="60.3" height="64.1" fill="#220408"/>
<rect x="611" y="44.8" width="46" height="43.4" fill="#36060f" filter="url(#bl2)"/>
<circle cx="637.8" cy="67.1" r="26" fill="url(#glow2b)"/>
<rect x="605.3" y="35.8" width="60.3" height="64.1" fill="url(#vig2)"/>
<circle cx="637.8" cy="67.1" r="12.5" fill="url(#glow2)"/>
<g filter="url(#bl05)">
<path d="M611.1,88 L611.1,44.8 L655.4,44.8 L655.6,58" fill="none" stroke="#ff1a3c" stroke-width="1.0"/>
<path d="M656.2,70 L657.4,88 L611.1,88" fill="none" stroke="#f8183a" stroke-width="1.0"/>
<path d="M644,67.5 Q650,66 656,68 T666,67.5" stroke="#c01030" stroke-width="0.7" fill="none"/>
<rect x="634.3" y="86.4" width="8.5" height="3.4" fill="#fff0f2"/>
<rect x="633.5" y="44" width="7" height="1.6" fill="#ff5070"/>
<rect x="610.2" y="86.6" width="3" height="2.6" fill="#ff4060"/>
<ellipse cx="645" cy="65.5" rx="1.2" ry="3.2" fill="#ffb0c0"/>
</g>
<circle cx="637.8" cy="67.1" r="4.8" fill="#ff2a48" filter="url(#bl3)"/>
<rect x="634.2" y="63.8" width="7.4" height="6.8" rx="1.5" fill="#ffeef0" filter="url(#bl05)"/>
</g></g>
<text x="0.40" y="280.80" font-size="15.2" fill="#000" font-weight="bold" textLength="8.55" lengthAdjust="spacingAndGlyphs" >c</text>
<polyline points="52.00,318.60 71.70,319.30 89.30,320.10 104.20,321.50 128.70,322.60 143.60,324.70 152.80,326.70 160.40,327.80 176.10,330.80 193.00,332.30 207.70,337.40 228.50,346.60 241.60,357.50 257.10,372.40 269.20,391.50 283.90,392.80 295.20,405.70" fill="none" stroke="#e41d25" stroke-width="1.7" stroke-linejoin="round"/>
<circle cx="52.00" cy="318.60" r="3.0" fill="#fff" stroke="#e41d25" stroke-width="1.55"/>
<circle cx="71.70" cy="319.30" r="3.0" fill="#fff" stroke="#e41d25" stroke-width="1.55"/>
<circle cx="89.30" cy="320.10" r="3.0" fill="#fff" stroke="#e41d25" stroke-width="1.55"/>
<circle cx="104.20" cy="321.50" r="3.0" fill="#fff" stroke="#e41d25" stroke-width="1.55"/>
<circle cx="128.70" cy="322.60" r="3.0" fill="#fff" stroke="#e41d25" stroke-width="1.55"/>
<circle cx="143.60" cy="324.70" r="3.0" fill="#fff" stroke="#e41d25" stroke-width="1.55"/>
<circle cx="152.80" cy="326.70" r="3.0" fill="#fff" stroke="#e41d25" stroke-width="1.55"/>
<circle cx="160.40" cy="327.80" r="3.0" fill="#fff" stroke="#e41d25" stroke-width="1.55"/>
<circle cx="176.10" cy="330.80" r="3.0" fill="#fff" stroke="#e41d25" stroke-width="1.55"/>
<circle cx="193.00" cy="332.30" r="3.0" fill="#fff" stroke="#e41d25" stroke-width="1.55"/>
<circle cx="207.70" cy="337.40" r="3.0" fill="#fff" stroke="#e41d25" stroke-width="1.55"/>
<circle cx="228.50" cy="346.60" r="3.0" fill="#fff" stroke="#e41d25" stroke-width="1.55"/>
<circle cx="241.60" cy="357.50" r="3.0" fill="#fff" stroke="#e41d25" stroke-width="1.55"/>
<circle cx="257.10" cy="372.40" r="3.0" fill="#fff" stroke="#e41d25" stroke-width="1.55"/>
<circle cx="269.20" cy="391.50" r="3.0" fill="#fff" stroke="#e41d25" stroke-width="1.55"/>
<circle cx="283.90" cy="392.80" r="3.0" fill="#fff" stroke="#e41d25" stroke-width="1.55"/>
<circle cx="295.20" cy="405.70" r="3.0" fill="#fff" stroke="#e41d25" stroke-width="1.55"/>
<polyline points="54.20,333.90 63.00,333.30 70.70,333.90 76.10,335.00 85.30,336.10 98.70,338.80 105.00,339.20 123.20,342.00 140.10,344.90 171.10,350.10 193.00,355.50 208.80,358.80 224.10,361.90 244.90,365.80 254.30,370.90 256.00,371.70" fill="none" stroke="#870000" stroke-width="1.7" stroke-linejoin="round"/>
<circle cx="54.20" cy="333.90" r="3.0" fill="#fff" stroke="#870000" stroke-width="1.55"/>
<circle cx="63.00" cy="333.30" r="3.0" fill="#fff" stroke="#870000" stroke-width="1.55"/>
<circle cx="70.70" cy="333.90" r="3.0" fill="#fff" stroke="#870000" stroke-width="1.55"/>
<circle cx="76.10" cy="335.00" r="3.0" fill="#fff" stroke="#870000" stroke-width="1.55"/>
<circle cx="85.30" cy="336.10" r="3.0" fill="#fff" stroke="#870000" stroke-width="1.55"/>
<circle cx="98.70" cy="338.80" r="3.0" fill="#fff" stroke="#870000" stroke-width="1.55"/>
<circle cx="105.00" cy="339.20" r="3.0" fill="#fff" stroke="#870000" stroke-width="1.55"/>
<circle cx="123.20" cy="342.00" r="3.0" fill="#fff" stroke="#870000" stroke-width="1.55"/>
<circle cx="140.10" cy="344.90" r="3.0" fill="#fff" stroke="#870000" stroke-width="1.55"/>
<circle cx="171.10" cy="350.10" r="3.0" fill="#fff" stroke="#870000" stroke-width="1.55"/>
<circle cx="193.00" cy="355.50" r="3.0" fill="#fff" stroke="#870000" stroke-width="1.55"/>
<circle cx="208.80" cy="358.80" r="3.0" fill="#fff" stroke="#870000" stroke-width="1.55"/>
<circle cx="224.10" cy="361.90" r="3.0" fill="#fff" stroke="#870000" stroke-width="1.55"/>
<circle cx="244.90" cy="365.80" r="3.0" fill="#fff" stroke="#870000" stroke-width="1.55"/>
<circle cx="254.30" cy="370.90" r="3.0" fill="#fff" stroke="#870000" stroke-width="1.55"/>
<circle cx="256.00" cy="371.70" r="3.0" fill="#fff" stroke="#870000" stroke-width="1.55"/>
<rect x="41.50" y="275.80" width="273.80" height="213.90" stroke="#000" stroke-width="1.65" fill="none" />
<line x1="37.30" y1="489.70" x2="41.50" y2="489.70" stroke="#000" stroke-width="1.3" />
<line x1="39.40" y1="457.49" x2="41.50" y2="457.49" stroke="#000" stroke-width="1.1" />
<line x1="39.40" y1="438.65" x2="41.50" y2="438.65" stroke="#000" stroke-width="1.1" />
<line x1="39.40" y1="425.28" x2="41.50" y2="425.28" stroke="#000" stroke-width="1.1" />
<line x1="39.40" y1="414.91" x2="41.50" y2="414.91" stroke="#000" stroke-width="1.1" />
<line x1="39.40" y1="406.44" x2="41.50" y2="406.44" stroke="#000" stroke-width="1.1" />
<line x1="39.40" y1="399.27" x2="41.50" y2="399.27" stroke="#000" stroke-width="1.1" />
<line x1="39.40" y1="393.07" x2="41.50" y2="393.07" stroke="#000" stroke-width="1.1" />
<line x1="39.40" y1="387.60" x2="41.50" y2="387.60" stroke="#000" stroke-width="1.1" />
<line x1="37.30" y1="382.70" x2="41.50" y2="382.70" stroke="#000" stroke-width="1.3" />
<line x1="39.40" y1="350.49" x2="41.50" y2="350.49" stroke="#000" stroke-width="1.1" />
<line x1="39.40" y1="331.65" x2="41.50" y2="331.65" stroke="#000" stroke-width="1.1" />
<line x1="39.40" y1="318.28" x2="41.50" y2="318.28" stroke="#000" stroke-width="1.1" />
<line x1="39.40" y1="307.91" x2="41.50" y2="307.91" stroke="#000" stroke-width="1.1" />
<line x1="39.40" y1="299.44" x2="41.50" y2="299.44" stroke="#000" stroke-width="1.1" />
<line x1="39.40" y1="292.27" x2="41.50" y2="292.27" stroke="#000" stroke-width="1.1" />
<line x1="39.40" y1="286.07" x2="41.50" y2="286.07" stroke="#000" stroke-width="1.1" />
<line x1="39.40" y1="280.60" x2="41.50" y2="280.60" stroke="#000" stroke-width="1.1" />
<line x1="37.30" y1="275.70" x2="41.50" y2="275.70" stroke="#000" stroke-width="1.3" />
<text x="15.10" y="281.10" font-size="13.0" fill="#000" font-weight="bold" textLength="14.12" lengthAdjust="spacingAndGlyphs" >10</text>
<text x="29.62" y="275.60" font-size="9.0" fill="#000" font-weight="bold" textLength="4.51" lengthAdjust="spacingAndGlyphs" >2</text>
<text x="15.10" y="388.10" font-size="13.0" fill="#000" font-weight="bold" textLength="14.12" lengthAdjust="spacingAndGlyphs" >10</text>
<text x="29.95" y="382.60" font-size="9.0" fill="#000" font-weight="bold" textLength="3.11" lengthAdjust="spacingAndGlyphs" >1</text>
<text x="15.10" y="494.90" font-size="13.0" fill="#000" font-weight="bold" textLength="14.12" lengthAdjust="spacingAndGlyphs" >10</text>
<text x="29.54" y="489.40" font-size="9.0" fill="#000" font-weight="bold" textLength="5.03" lengthAdjust="spacingAndGlyphs" >0</text>
<line x1="57.50" y1="489.70" x2="57.50" y2="494.30" stroke="#000" stroke-width="1.3" />
<line x1="73.00" y1="489.70" x2="73.00" y2="492.00" stroke="#000" stroke-width="1.1" />
<line x1="82.07" y1="489.70" x2="82.07" y2="492.00" stroke="#000" stroke-width="1.1" />
<line x1="88.51" y1="489.70" x2="88.51" y2="492.00" stroke="#000" stroke-width="1.1" />
<line x1="93.50" y1="489.70" x2="93.50" y2="492.00" stroke="#000" stroke-width="1.1" />
<line x1="97.57" y1="489.70" x2="97.57" y2="492.00" stroke="#000" stroke-width="1.1" />
<line x1="101.02" y1="489.70" x2="101.02" y2="492.00" stroke="#000" stroke-width="1.1" />
<line x1="104.01" y1="489.70" x2="104.01" y2="492.00" stroke="#000" stroke-width="1.1" />
<line x1="106.64" y1="489.70" x2="106.64" y2="492.00" stroke="#000" stroke-width="1.1" />
<line x1="109.00" y1="489.70" x2="109.00" y2="494.30" stroke="#000" stroke-width="1.3" />
<line x1="124.50" y1="489.70" x2="124.50" y2="492.00" stroke="#000" stroke-width="1.1" />
<line x1="133.57" y1="489.70" x2="133.57" y2="492.00" stroke="#000" stroke-width="1.1" />
<line x1="140.01" y1="489.70" x2="140.01" y2="492.00" stroke="#000" stroke-width="1.1" />
<line x1="145.00" y1="489.70" x2="145.00" y2="492.00" stroke="#000" stroke-width="1.1" />
<line x1="149.07" y1="489.70" x2="149.07" y2="492.00" stroke="#000" stroke-width="1.1" />
<line x1="152.52" y1="489.70" x2="152.52" y2="492.00" stroke="#000" stroke-width="1.1" />
<line x1="155.51" y1="489.70" x2="155.51" y2="492.00" stroke="#000" stroke-width="1.1" />
<line x1="158.14" y1="489.70" x2="158.14" y2="492.00" stroke="#000" stroke-width="1.1" />
<line x1="160.50" y1="489.70" x2="160.50" y2="494.30" stroke="#000" stroke-width="1.3" />
<line x1="176.00" y1="489.70" x2="176.00" y2="492.00" stroke="#000" stroke-width="1.1" />
<line x1="185.07" y1="489.70" x2="185.07" y2="492.00" stroke="#000" stroke-width="1.1" />
<line x1="191.51" y1="489.70" x2="191.51" y2="492.00" stroke="#000" stroke-width="1.1" />
<line x1="196.50" y1="489.70" x2="196.50" y2="492.00" stroke="#000" stroke-width="1.1" />
<line x1="200.57" y1="489.70" x2="200.57" y2="492.00" stroke="#000" stroke-width="1.1" />
<line x1="204.02" y1="489.70" x2="204.02" y2="492.00" stroke="#000" stroke-width="1.1" />
<line x1="207.01" y1="489.70" x2="207.01" y2="492.00" stroke="#000" stroke-width="1.1" />
<line x1="209.64" y1="489.70" x2="209.64" y2="492.00" stroke="#000" stroke-width="1.1" />
<line x1="212.00" y1="489.70" x2="212.00" y2="494.30" stroke="#000" stroke-width="1.3" />
<line x1="227.50" y1="489.70" x2="227.50" y2="492.00" stroke="#000" stroke-width="1.1" />
<line x1="236.57" y1="489.70" x2="236.57" y2="492.00" stroke="#000" stroke-width="1.1" />
<line x1="243.01" y1="489.70" x2="243.01" y2="492.00" stroke="#000" stroke-width="1.1" />
<line x1="248.00" y1="489.70" x2="248.00" y2="492.00" stroke="#000" stroke-width="1.1" />
<line x1="252.07" y1="489.70" x2="252.07" y2="492.00" stroke="#000" stroke-width="1.1" />
<line x1="255.52" y1="489.70" x2="255.52" y2="492.00" stroke="#000" stroke-width="1.1" />
<line x1="258.51" y1="489.70" x2="258.51" y2="492.00" stroke="#000" stroke-width="1.1" />
<line x1="261.14" y1="489.70" x2="261.14" y2="492.00" stroke="#000" stroke-width="1.1" />
<line x1="263.50" y1="489.70" x2="263.50" y2="494.30" stroke="#000" stroke-width="1.3" />
<line x1="279.00" y1="489.70" x2="279.00" y2="492.00" stroke="#000" stroke-width="1.1" />
<line x1="288.07" y1="489.70" x2="288.07" y2="492.00" stroke="#000" stroke-width="1.1" />
<line x1="294.51" y1="489.70" x2="294.51" y2="492.00" stroke="#000" stroke-width="1.1" />
<line x1="299.50" y1="489.70" x2="299.50" y2="492.00" stroke="#000" stroke-width="1.1" />
<line x1="303.57" y1="489.70" x2="303.57" y2="492.00" stroke="#000" stroke-width="1.1" />
<line x1="307.02" y1="489.70" x2="307.02" y2="492.00" stroke="#000" stroke-width="1.1" />
<line x1="310.01" y1="489.70" x2="310.01" y2="492.00" stroke="#000" stroke-width="1.1" />
<line x1="312.64" y1="489.70" x2="312.64" y2="492.00" stroke="#000" stroke-width="1.1" />
<line x1="315.00" y1="489.70" x2="315.00" y2="494.30" stroke="#000" stroke-width="1.3" />
<line x1="46.07" y1="489.70" x2="46.07" y2="492.00" stroke="#000" stroke-width="1.1" />
<line x1="49.52" y1="489.70" x2="49.52" y2="492.00" stroke="#000" stroke-width="1.1" />
<line x1="52.51" y1="489.70" x2="52.51" y2="492.00" stroke="#000" stroke-width="1.1" />
<line x1="55.14" y1="489.70" x2="55.14" y2="492.00" stroke="#000" stroke-width="1.1" />
<text x="38.77" y="509.20" font-size="13.0" fill="#000" font-weight="bold" textLength="14.67" lengthAdjust="spacingAndGlyphs" >10</text>
<text x="53.78" y="503.80" font-size="9.0" fill="#000" font-weight="bold" textLength="4.44" lengthAdjust="spacingAndGlyphs" >0</text>
<text x="90.27" y="509.20" font-size="13.0" fill="#000" font-weight="bold" textLength="14.67" lengthAdjust="spacingAndGlyphs" >10</text>
<text x="105.25" y="503.80" font-size="9.0" fill="#000" font-weight="bold" textLength="3.11" lengthAdjust="spacingAndGlyphs" >1</text>
<text x="141.77" y="509.20" font-size="13.0" fill="#000" font-weight="bold" textLength="14.67" lengthAdjust="spacingAndGlyphs" >10</text>
<text x="156.83" y="503.80" font-size="9.0" fill="#000" font-weight="bold" textLength="4.39" lengthAdjust="spacingAndGlyphs" >2</text>
<text x="193.27" y="509.20" font-size="13.0" fill="#000" font-weight="bold" textLength="14.67" lengthAdjust="spacingAndGlyphs" >10</text>
<text x="208.42" y="503.80" font-size="9.0" fill="#000" font-weight="bold" textLength="4.25" lengthAdjust="spacingAndGlyphs" >3</text>
<text x="244.77" y="509.20" font-size="13.0" fill="#000" font-weight="bold" textLength="14.67" lengthAdjust="spacingAndGlyphs" >10</text>
<text x="259.99" y="503.80" font-size="9.0" fill="#000" font-weight="bold" textLength="3.95" lengthAdjust="spacingAndGlyphs" >4</text>
<text x="296.27" y="509.20" font-size="13.0" fill="#000" font-weight="bold" textLength="14.67" lengthAdjust="spacingAndGlyphs" >10</text>
<text x="311.37" y="503.80" font-size="9.0" fill="#000" font-weight="bold" textLength="4.25" lengthAdjust="spacingAndGlyphs" >5</text>
<text transform="translate(10.90,412.50) rotate(-90)" x="-1.26" y="0" font-size="15.5" fill="#000" textLength="60.41" lengthAdjust="spacingAndGlyphs">EQE (%)</text>
<text x="121.42" y="527.00" font-size="15.0" fill="#000" textLength="119.40" lengthAdjust="spacingAndGlyphs" >Luminance (cd/m</text>
<text x="240.23" y="522.90" font-size="10.2" fill="#000" textLength="5.25" lengthAdjust="spacingAndGlyphs" >2</text>
<text x="246.52" y="527.00" font-size="15.0" fill="#000" textLength="4.52" lengthAdjust="spacingAndGlyphs" >)</text>
<line x1="234.90" y1="289.00" x2="264.80" y2="289.00" stroke="#e41d25" stroke-width="1.8" />
<circle cx="249.4" cy="289.0" r="2.95" fill="#fff" stroke="#e41d25" stroke-width="1.4"/>
<text x="268.21" y="293.80" font-size="14.4" fill="#000" textLength="36.54" lengthAdjust="spacingAndGlyphs" >S-BN</text>
<line x1="234.90" y1="312.60" x2="264.80" y2="312.60" stroke="#870000" stroke-width="1.8" />
<circle cx="249.4" cy="312.6" r="2.95" fill="#fff" stroke="#870000" stroke-width="1.4"/>
<text x="268.14" y="317.40" font-size="14.4" fill="#000" textLength="44.28" lengthAdjust="spacingAndGlyphs" >2S-BN</text>
<text x="51.08" y="433.50" font-size="13.0" fill="#e41d25" textLength="28.80" lengthAdjust="spacingAndGlyphs" >EQE</text>
<text x="80.18" y="436.60" font-size="9.4" fill="#e41d25" textLength="59.59" lengthAdjust="spacingAndGlyphs" >max/100/1000</text>
<text x="143.23" y="433.70" font-size="13.3" fill="#e41d25" textLength="144.57" lengthAdjust="spacingAndGlyphs" >= 39.9%, 33.1%, 26.3%</text>
<text x="51.08" y="453.90" font-size="13.0" fill="#870000" textLength="28.80" lengthAdjust="spacingAndGlyphs" >EQE</text>
<text x="80.18" y="457.00" font-size="9.4" fill="#870000" textLength="59.59" lengthAdjust="spacingAndGlyphs" >max/100/1000</text>
<text x="143.23" y="454.10" font-size="13.3" fill="#870000" textLength="144.57" lengthAdjust="spacingAndGlyphs" >= 29.3%, 21.1%, 16.7%</text>
<text x="352.71" y="280.20" font-size="15.2" fill="#000" font-weight="bold" textLength="10.30" lengthAdjust="spacingAndGlyphs" >d</text>
<defs><linearGradient id="bar" x1="0" x2="1" y1="0" y2="0"><stop offset="0" stop-color="#ff6c00"/><stop offset="0.089" stop-color="#ff4a00"/><stop offset="0.199" stop-color="#ff2000"/><stop offset="0.309" stop-color="#fc0000"/><stop offset="0.418" stop-color="#e20008"/><stop offset="0.528" stop-color="#c4000e"/><stop offset="0.656" stop-color="#a00818"/><stop offset="0.766" stop-color="#860c1c"/><stop offset="0.876" stop-color="#6a0c20"/><stop offset="1" stop-color="#460c22"/></linearGradient></defs>
<rect x="400.6" y="275.6" width="273.40" height="24.10" fill="url(#bar)"/>
<text x="425.70" y="293.00" font-size="14.0" fill="#fff" textLength="84.51" lengthAdjust="spacingAndGlyphs" >orange to red</text>
<text x="553.00" y="293.00" font-size="14.0" fill="#f6e8ec" textLength="100.85" lengthAdjust="spacingAndGlyphs" >deep-red to NIR</text>
<polygon points="431.20,311.40 434.92,317.85 427.48,317.85" fill="#f4107f"/>
<polygon points="431.00,326.80 434.12,328.60 434.12,332.20 431.00,334.00 427.88,332.20 427.88,328.60" fill="#6670f5"/>
<rect x="419.80" y="337.00" width="5.6" height="5.6" fill="#1cc3c3"/>
<polygon points="424.30,350.10 420.58,343.65 428.02,343.65" fill="#0c9cf6"/>
<circle cx="429.30" cy="358.00" r="3.2" fill="#e274f5"/>
<polygon points="429.40,395.00 433.11,397.69 431.69,402.06 427.11,402.06 425.69,397.69" fill="#0c9cf6"/>
<polygon points="453.50,399.90 449.78,393.45 457.22,393.45" fill="#f4107f"/>
<polygon points="468.70,393.70 472.42,400.15 464.98,400.15" fill="#e274f5"/>
<rect x="462.75" y="365.75" width="5.3" height="5.3" fill="#4e4e4e"/>
<rect x="471.10" y="367.40" width="5.4" height="5.4" fill="#f0862e"/>
<circle cx="487.40" cy="377.70" r="3.2" fill="#f0862e"/>
<polygon points="492.70,381.90 496.42,388.35 488.98,388.35" fill="#2060e0"/>
<circle cx="481.60" cy="392.20" r="3.0" fill="#1cc3c3"/>
<rect x="475.90" y="389.50" width="5.4" height="5.4" fill="#10708f"/>
<polygon points="480.90,419.10 484.02,420.90 484.02,424.50 480.90,426.30 477.78,424.50 477.78,420.90" fill="#10708f"/>
<polygon points="472.30,425.90 476.02,432.35 468.58,432.35" fill="#10708f"/>
<polygon points="460.20,435.70 463.91,438.39 462.49,442.76 457.91,442.76 456.49,438.39" fill="#6670f5"/>
<polygon points="478.90,451.50 482.02,453.30 482.02,456.90 478.90,458.70 475.78,456.90 475.78,453.30" fill="#f4107f"/>
<polygon points="474.00,460.60 477.71,463.29 476.29,467.66 471.71,467.66 470.29,463.29" fill="#e274f5"/>
<polygon points="468.70,327.80 472.42,334.25 464.98,334.25" fill="#1cc3c3"/>
<polygon points="480.70,330.70 476.98,324.25 484.42,324.25" fill="#f0862e"/>
<polygon points="482.40,341.10 478.68,334.65 486.12,334.65" fill="#e274f5"/>
<polygon points="482.40,332.50 486.12,338.95 478.68,338.95" fill="#f0862e"/>
<circle cx="492.50" cy="323.90" r="3.2" fill="#e63444"/>
<polygon points="494.30,325.60 498.01,328.29 496.59,332.66 492.01,332.66 490.59,328.29" fill="#f4107f"/>
<rect x="503.60" y="339.80" width="5.4" height="5.4" fill="#0c9cf6"/>
<polygon points="506.40,368.80 502.68,362.35 510.12,362.35" fill="#1cc3c3"/>
<circle cx="524.80" cy="336.90" r="3.2" fill="#0c9cf6"/>
<circle cx="528.70" cy="335.60" r="3.2" fill="#6670f5"/>
<rect x="522.30" y="342.80" width="5.4" height="5.4" fill="#6670f5"/>
<polygon points="561.20,360.90 564.91,363.59 563.49,367.96 558.91,367.96 557.49,363.59" fill="#1cc3c3"/>
<circle cx="573.10" cy="368.40" r="3.2" fill="#10708f"/>
<polygon points="598.70,363.00 601.82,364.80 601.82,368.40 598.70,370.20 595.58,368.40 595.58,364.80" fill="#e274f5"/>
<rect x="608.10" y="356.80" width="5.4" height="5.4" fill="#f4107f"/>
<circle cx="644.90" cy="382.30" r="3.2" fill="#0c9cf6"/>
<polygon points="451.60,306.10 453.22,310.27 457.69,310.52 454.22,313.35 455.36,317.68 451.60,315.25 447.84,317.68 448.98,313.35 445.51,310.52 449.98,310.27" fill="#ff0000"/>
<ellipse cx="451.5" cy="311.9" rx="9.6" ry="8.2" fill="none" stroke="#ff0000" stroke-width="1.6"/>
<polygon points="581.30,353.20 582.87,357.24 587.20,357.48 583.84,360.22 584.94,364.42 581.30,362.07 577.66,364.42 578.76,360.22 575.40,357.48 579.73,357.24" fill="#7a0000"/>
<ellipse cx="580.7" cy="358.7" rx="9.6" ry="7.6" fill="none" stroke="#ff0000" stroke-width="1.6"/>
<line x1="571.80" y1="317.10" x2="470.89" y2="310.59" stroke="#ff0000" stroke-width="1.5"/>
<polygon points="464.90,310.20 471.55,308.12 471.23,313.11" fill="#ff0000"/>
<line x1="590.90" y1="328.30" x2="585.43" y2="340.06" stroke="#ff0000" stroke-width="1.5"/>
<polygon points="582.90,345.50 583.37,338.55 587.91,340.66" fill="#ff0000"/>
<rect x="400.60" y="275.60" width="273.40" height="214.10" stroke="#000" stroke-width="1.65" fill="none" />
<line x1="396.40" y1="489.70" x2="400.60" y2="489.70" stroke="#000" stroke-width="1.3" />
<text x="385.04" y="493.70" font-size="12.2" fill="#000" font-weight="bold" textLength="7.84" lengthAdjust="spacingAndGlyphs" >0</text>
<line x1="398.30" y1="467.40" x2="400.60" y2="467.40" stroke="#000" stroke-width="1.3" />
<line x1="396.40" y1="445.10" x2="400.60" y2="445.10" stroke="#000" stroke-width="1.3" />
<text x="378.38" y="449.10" font-size="12.2" fill="#000" font-weight="bold" textLength="14.45" lengthAdjust="spacingAndGlyphs" >10</text>
<line x1="398.30" y1="422.80" x2="400.60" y2="422.80" stroke="#000" stroke-width="1.3" />
<line x1="396.40" y1="400.50" x2="400.60" y2="400.50" stroke="#000" stroke-width="1.3" />
<text x="378.76" y="404.50" font-size="12.2" fill="#000" font-weight="bold" textLength="14.06" lengthAdjust="spacingAndGlyphs" >20</text>
<line x1="398.30" y1="378.20" x2="400.60" y2="378.20" stroke="#000" stroke-width="1.3" />
<line x1="396.40" y1="355.90" x2="400.60" y2="355.90" stroke="#000" stroke-width="1.3" />
<text x="378.91" y="359.90" font-size="12.2" fill="#000" font-weight="bold" textLength="13.90" lengthAdjust="spacingAndGlyphs" >30</text>
<line x1="398.30" y1="333.60" x2="400.60" y2="333.60" stroke="#000" stroke-width="1.3" />
<line x1="396.40" y1="311.30" x2="400.60" y2="311.30" stroke="#000" stroke-width="1.3" />
<text x="379.01" y="315.30" font-size="12.2" fill="#000" font-weight="bold" textLength="13.80" lengthAdjust="spacingAndGlyphs" >40</text>
<line x1="398.30" y1="289.00" x2="400.60" y2="289.00" stroke="#000" stroke-width="1.3" />
<line x1="400.65" y1="489.70" x2="400.65" y2="492.00" stroke="#000" stroke-width="1.3" />
<line x1="417.70" y1="489.70" x2="417.70" y2="494.00" stroke="#000" stroke-width="1.3" />
<text x="407.31" y="507.60" font-size="12.2" fill="#000" font-weight="bold" textLength="20.90" lengthAdjust="spacingAndGlyphs" >580</text>
<line x1="434.75" y1="489.70" x2="434.75" y2="492.00" stroke="#000" stroke-width="1.3" />
<line x1="451.80" y1="489.70" x2="451.80" y2="494.00" stroke="#000" stroke-width="1.3" />
<text x="441.34" y="507.60" font-size="12.2" fill="#000" font-weight="bold" textLength="20.98" lengthAdjust="spacingAndGlyphs" >600</text>
<line x1="468.85" y1="489.70" x2="468.85" y2="492.00" stroke="#000" stroke-width="1.3" />
<line x1="485.90" y1="489.70" x2="485.90" y2="494.00" stroke="#000" stroke-width="1.3" />
<text x="475.44" y="507.60" font-size="12.2" fill="#000" font-weight="bold" textLength="20.98" lengthAdjust="spacingAndGlyphs" >620</text>
<line x1="502.95" y1="489.70" x2="502.95" y2="492.00" stroke="#000" stroke-width="1.3" />
<line x1="520.00" y1="489.70" x2="520.00" y2="494.00" stroke="#000" stroke-width="1.3" />
<text x="509.54" y="507.60" font-size="12.2" fill="#000" font-weight="bold" textLength="20.98" lengthAdjust="spacingAndGlyphs" >640</text>
<line x1="537.05" y1="489.70" x2="537.05" y2="492.00" stroke="#000" stroke-width="1.3" />
<line x1="554.10" y1="489.70" x2="554.10" y2="494.00" stroke="#000" stroke-width="1.3" />
<text x="543.64" y="507.60" font-size="12.2" fill="#000" font-weight="bold" textLength="20.98" lengthAdjust="spacingAndGlyphs" >660</text>
<line x1="571.15" y1="489.70" x2="571.15" y2="492.00" stroke="#000" stroke-width="1.3" />
<line x1="588.20" y1="489.70" x2="588.20" y2="494.00" stroke="#000" stroke-width="1.3" />
<text x="577.74" y="507.60" font-size="12.2" fill="#000" font-weight="bold" textLength="20.98" lengthAdjust="spacingAndGlyphs" >680</text>
<line x1="605.25" y1="489.70" x2="605.25" y2="492.00" stroke="#000" stroke-width="1.3" />
<line x1="622.30" y1="489.70" x2="622.30" y2="494.00" stroke="#000" stroke-width="1.3" />
<text x="611.76" y="507.60" font-size="12.2" fill="#000" font-weight="bold" textLength="21.06" lengthAdjust="spacingAndGlyphs" >700</text>
<line x1="639.35" y1="489.70" x2="639.35" y2="492.00" stroke="#000" stroke-width="1.3" />
<line x1="656.40" y1="489.70" x2="656.40" y2="494.00" stroke="#000" stroke-width="1.3" />
<text x="645.86" y="507.60" font-size="12.2" fill="#000" font-weight="bold" textLength="21.06" lengthAdjust="spacingAndGlyphs" >720</text>
<line x1="673.45" y1="489.70" x2="673.45" y2="492.00" stroke="#000" stroke-width="1.3" />
<text transform="translate(366.30,410.20) rotate(-90)" x="-1.29" y="0" font-size="14.9" fill="#000" textLength="62.17" lengthAdjust="spacingAndGlyphs">EQE (%)</text>
<text x="477.53" y="526.90" font-size="14.8" fill="#000" textLength="116.42" lengthAdjust="spacingAndGlyphs" >Wavelength (nm)</text>
<text x="575.99" y="324.10" font-size="13.7" fill="#f5141a" textLength="61.99" lengthAdjust="spacingAndGlyphs" >This Work</text>
</svg>
</body></html>
